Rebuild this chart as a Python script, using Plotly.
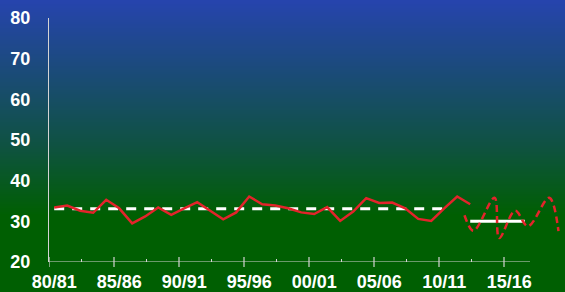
import plotly.graph_objects as go

# ---------------- data ----------------
season_years = list(range(1980, 2013))
observed = [33.4, 33.9, 32.6, 32.1, 35.3, 33.2, 29.5, 31.2, 33.4, 31.6,
            33.2, 34.7, 32.6, 30.5, 32.2, 36.1, 34.2, 33.9, 33.2, 32.2,
            31.8, 33.5, 30.1, 32.4, 35.7, 34.5, 34.6, 33.2, 30.6, 30.1,
            33.2, 36.1, 34.2]

mean_years = [1980, 2010]
mean_values = [33.1, 33.1]

recent_years = [2012, 2016.2]
recent_values = [30.0, 30.0]

proj_years = [2011.56, 2012.25, 2013.87, 2014.23, 2015.46, 2016.44, 2018.08, 2018.79]
proj_values = [31.5, 27.7, 35.8, 25.9, 32.6, 28.8, 35.8, 27.6]

tick_seasons = [1980, 1985, 1990, 1995, 2000, 2005, 2010, 2015]
tick_labels = ["80/81", "85/86", "90/91", "95/96", "00/01", "05/06", "10/11", "15/16"]
y_ticks = [20, 30, 40, 50, 60, 70, 80]

# ---------------- layout helpers ----------------
W, H = 565, 292
ML, MR, MT, MB = 49, 2, 18, 30
PX_PER_YEAR = 13.0
TICK_OFFSET = -0.4
x_lo = 1980 + TICK_OFFSET
x_hi = x_lo + (W - ML - MR) / PX_PER_YEAR
axis_end = 2016.6

RED = "#E3242B"
AXIS = "#D4D4D4"
plot_h = H - MT - MB


def lerp(c1, c2, t):
    return tuple(round(a + (b - a) * t) for a, b in zip(c1, c2))


stops = [(0, (38, 68, 174)), (145, (15, 82, 66)), (215, (0, 95, 2)), (H, (0, 95, 2))]


def color_at(p):
    for (p0, c0), (p1, c1) in zip(stops[:-1], stops[1:]):
        if p0 <= p <= p1:
            return lerp(c0, c1, (p - p0) / (p1 - p0) if p1 > p0 else 0)
    return stops[-1][1]


shapes = []
step = 2
for p in range(0, H, step):
    c = color_at(p + step / 2)
    shapes.append(dict(
        type="rect", xref="paper", yref="paper", layer="below",
        x0=-0.2, x1=1.2,
        y0=(H - MB - (p + step + 0.5)) / plot_h, y1=(H - MB - p) / plot_h,
        fillcolor="rgb(%d,%d,%d)" % c, line=dict(width=0),
    ))

# x axis line (shorter than plot area)
shapes.append(dict(type="line", xref="x", yref="y", x0=x_lo, x1=axis_end,
                   y0=20, y1=20, line=dict(color=AXIS, width=1.2), layer="above"))
# major ticks crossing the axis line
for s in tick_seasons:
    shapes.append(dict(type="line", xref="x", yref="paper", ysizemode="pixel",
                       yanchor=0, y0=-5, y1=5, x0=s + TICK_OFFSET, x1=s + TICK_OFFSET,
                       line=dict(color=AXIS, width=1.2), layer="above"))

fig = go.Figure()

fig.add_trace(go.Scatter(x=mean_years, y=mean_values, mode="lines",
                         line=dict(color="white", width=3, dash="10px,8px"),
                         hoverinfo="skip"))
fig.add_trace(go.Scatter(x=season_years, y=observed, mode="lines",
                         line=dict(color=RED, width=2.5)))
fig.add_trace(go.Scatter(x=recent_years, y=recent_values, mode="lines",
                         line=dict(color="white", width=3), hoverinfo="skip"))
fig.add_trace(go.Scatter(x=proj_years, y=proj_values, mode="lines",
                         line=dict(color=RED, width=2.5, dash="7px,4px",
                                   shape="spline", smoothing=1.0)))

fig.update_layout(
    width=W, height=H,
    margin=dict(l=ML, r=MR, t=MT, b=MB, pad=0, autoexpand=False),
    paper_bgcolor="rgb(0,95,2)",
    plot_bgcolor="rgba(0,0,0,0)",
    showlegend=False,
    shapes=shapes,
    font=dict(family="Liberation Sans, Arial, sans-serif", color="white"),
    xaxis=dict(
        range=[x_lo, x_hi], showgrid=False, zeroline=False, showline=False,
        automargin=False,
        tickmode="array", tickvals=tick_seasons,
        ticktext=["<b>%s</b>" % t for t in tick_labels], ticks="",
        ticklabelstandoff=7,
        tickfont=dict(size=18, color="white"),
        minor=dict(ticks="inside", ticklen=3, tickwidth=1.2, tickcolor=AXIS,
                   tickmode="array",
                   tickvals=[s + 2.5 + TICK_OFFSET for s in tick_seasons[:-1]]),
    ),
    yaxis=dict(
        range=[20, 80], showgrid=False, zeroline=False, showline=True,
        automargin=False,
        linecolor=AXIS, linewidth=1.2,
        tickmode="array", tickvals=y_ticks,
        ticktext=["<b>%d</b>" % v for v in y_ticks], ticks="",
        tickfont=dict(size=18, color="white"),
        ticklabelstandoff=14,
    ),
)

fig.write_html(
    "out.html",
    config={"displayModeBar": False},
    post_script="document.body.style.margin='0';document.body.style.overflow='hidden';",
)
